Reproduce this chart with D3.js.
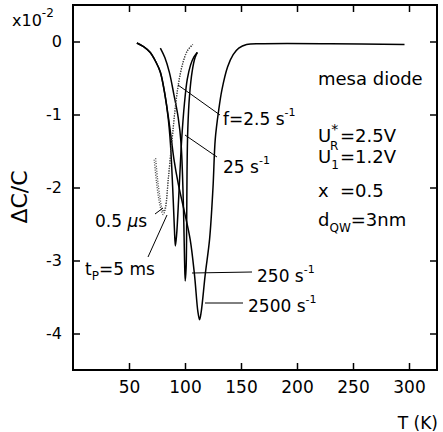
<html>
<head><meta charset="utf-8"></head>
<script src="https://d3js.org/d3.v7.min.js"></script>
<style>
body { margin: 0; background: #fff; }
text { font-family: "DejaVu Sans", sans-serif; fill: #000; }
</style>
<body>
<svg id="chart" width="443" height="432"></svg>
<script>
// temperature (K) / dC/C (x1e-2)
var c25 = [[57,-0.02],[63,-0.07],[69,-0.15],[74,-0.28],[78,-0.42],[82,-0.72],[85,-1.05],[87,-1.4],[89,-2.0],[90.5,-2.55],[91.4,-2.8],[92.5,-2.65],[94.5,-2.1],[97,-1.35],[99.5,-0.85],[102,-0.52],[105,-0.32],[108,-0.21],[111,-0.15]];
var c250 = [[78,-0.09],[82,-0.22],[86,-0.42],[90,-0.72],[94,-1.05],[96.5,-1.4],[98.5,-2.2],[99.6,-3.0],[100.2,-3.28],[101,-3.1],[101.5,-2.5],[101.8,-1.8],[102.5,-1.2],[104,-0.75],[106.5,-0.4],[109,-0.22],[111,-0.15]];
var c2500 = [[57,-0.02],[63,-0.07],[69,-0.15],[74,-0.28],[78,-0.42],[82,-0.72],[85,-1.02],[87.5,-1.3],[90,-1.6],[94,-1.95],[99,-2.3],[104.6,-2.71],[108.5,-3.2],[111.5,-3.7],[113,-3.81],[114.5,-3.7],[118,-3.2],[122,-2.7],[125,-2.0],[127,-1.34],[130,-0.95],[133,-0.66],[138,-0.35],[143,-0.18],[148,-0.09],[155,-0.04],[170,-0.03],[230,-0.03],[296,-0.04]];
var dot5ms = [[72.5,-1.62],[74.5,-1.92],[76.5,-2.15],[78.5,-2.3],[80.5,-2.37],[82.4,-2.3],[85,-1.9],[88.3,-1.37],[91,-0.95],[94,-0.59],[98,-0.3],[102,-0.13],[107,-0.04]];
var dot05us = [[73.8,-1.6],[75.5,-1.88],[77.5,-2.12],[79.3,-2.28],[80.8,-2.33],[82.6,-2.26],[85.2,-1.86],[88.5,-1.34],[91.2,-0.93],[94.2,-0.58],[98,-0.3],[102,-0.13],[107,-0.04]];
var xTicks = [50, 100, 150, 200, 250, 300];
var yTicks = [0, -1, -2, -3, -4];

var svg = d3.select("#chart");
var mLeft = 73, mRight = 437, mTop = 5, mBottom = 370;
var x = d3.scaleLinear().domain([0, 325]).range([mLeft, mRight]);
var y = d3.scaleLinear().domain([-4.5, 0.5]).range([mBottom, mTop]);

function path(data) {
    return d3.line().x(function(d) { return x(d[0]); }).y(function(d) { return y(d[1]); }).curve(d3.curveCatmullRom.alpha(0.5))(data);
}

// axes, ticks inward on all four sides
svg.append("g").attr("transform", "translate(0," + mBottom + ")")
   .call(d3.axisBottom(x).tickValues(xTicks).tickSizeInner(-7).tickSizeOuter(0).tickPadding(11))
   .call(function(g) { g.selectAll("text").attr("font-size", 17).style("font-family", "DejaVu Sans, sans-serif"); });
svg.append("g").attr("transform", "translate(0," + mTop + ")")
   .call(d3.axisTop(x).tickValues(xTicks).tickSizeInner(-7).tickSizeOuter(0).tickFormat(""));
svg.append("g").attr("transform", "translate(" + mLeft + ",0)")
   .call(d3.axisLeft(y).tickValues(yTicks).tickSizeInner(-7).tickSizeOuter(0).tickPadding(11).tickFormat(function(d) { return String(d); }))
   .call(function(g) { g.selectAll("text").attr("font-size", 16).style("font-family", "DejaVu Sans, sans-serif"); });
svg.append("g").attr("transform", "translate(" + mRight + ",0)")
   .call(d3.axisRight(y).tickValues(yTicks).tickSizeInner(-7).tickSizeOuter(0).tickFormat(""));
svg.selectAll(".domain").remove();
svg.selectAll(".tick line").attr("stroke", "#000").attr("stroke-width", 1.5);
svg.append("rect").attr("x", mLeft).attr("y", mTop).attr("width", mRight - mLeft).attr("height", mBottom - mTop)
   .attr("fill", "none").attr("stroke", "#000").attr("stroke-width", 2);

// curves
[c25, c250, c2500].forEach(function(c) {
    svg.append("path").attr("d", path(c)).attr("fill", "none").attr("stroke", "#000").attr("stroke-width", 1.5);
});
[dot5ms, dot05us].forEach(function(c) {
    svg.append("path").attr("d", path(c)).attr("fill", "none").attr("stroke", "#444")
       .attr("stroke-width", 1.3).attr("stroke-dasharray", "1,1.5");
});

// pointer lines
var pointers = [[178, 85, 220, 115], [185, 135, 217, 157], [192, 273, 252, 272], [205, 303, 243, 303], [155, 214, 163, 208], [148, 257, 167, 215]];
pointers.forEach(function(p) {
    svg.append("line").attr("x1", p[0]).attr("y1", p[1]).attr("x2", p[2]).attr("y2", p[3])
       .attr("stroke", "#000").attr("stroke-width", 1);
});

function label(xp, yp, parts, size) {
    var t = svg.append("text").attr("x", xp).attr("y", yp).attr("font-size", size || 17);
    parts.forEach(function(p) {
        var s = t.append("tspan").text(p[0]);
        if (p[1]) s.attr("dy", p[1]);
        if (p[2]) s.attr("font-size", p[2]);
        if (p[3]) s.attr("x", p[3]);
    });
    return t;
}

// exponent and axis titles
label(12, 26, [["x10"], ["-2", -9, 12]], 16);
svg.append("text").attr("transform", "translate(27,197) rotate(-90)").attr("text-anchor", "middle")
   .attr("font-size", 22).text("\u0394C/C");
svg.append("text").attr("x", 438).attr("y", 429).attr("text-anchor", "end").attr("font-size", 17).text("T (K)");

// curve labels
label(223, 125, [["f=2.5 s"], ["-1", -9, 11]]);
label(223, 173, [["25 s"], ["-1", -9, 11]]);
label(257, 282, [["250 s"], ["-1", -9, 11]]);
label(248, 312, [["2500 s"], ["-1", -9, 11]]);
label(95, 227, [["0.5 "], ["\u03bc"], ["s"]]).select("tspan:nth-child(2)").attr("font-style", "italic");
label(85, 275, [["t"], ["P", 5, 12], ["=5 ms", -5, 17]]);

// parameter block
label(318, 85, [["mesa diode"]], 18);
label(318, 142, [["U"], ["*", -8, 14], ["R", 16, 12, 330], ["=2.5V", -8, 18, 340]], 18);
label(318, 163, [["U"], ["1", 6, 12], ["=1.2V", -6, 18, 340]], 18);
label(318, 197, [["x"], ["=0.5", 0, 18, 340]], 18);
label(318, 226, [["d"], ["QW", 6, 12], ["=3nm", -6, 18]], 18);
</script>
</body>
</html>
